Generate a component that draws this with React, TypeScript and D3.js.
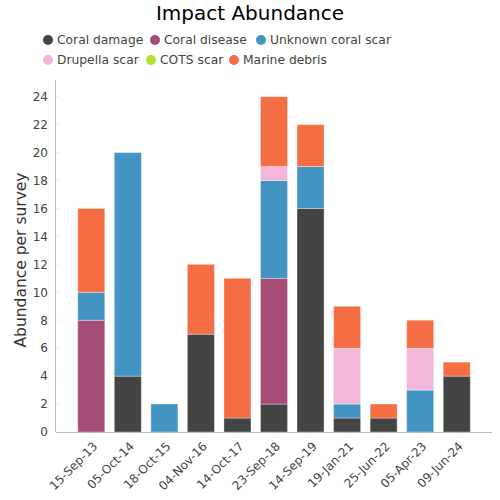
import React from "react";
import * as d3 from "d3";

const categories = ["15-Sep-13", "05-Oct-14", "18-Oct-15", "04-Nov-16", "14-Oct-17", "23-Sep-18", "14-Sep-19", "19-Jan-21", "25-Jun-22", "05-Apr-23", "09-Jun-24"];
const seriesNames = ["Coral damage", "Coral disease", "Unknown coral scar", "Drupella scar", "COTS scar", "Marine debris"];
const seriesColors = ["#444444", "#a54c77", "#4393c3", "#f1b6da", "#b8e02a", "#f46d43"];
const coralDamage = [0, 4, 0, 7, 1, 2, 16, 1, 1, 0, 4];
const coralDisease = [8, 0, 0, 0, 0, 9, 0, 0, 0, 0, 0];
const unknownScar = [2, 16, 2, 0, 0, 7, 3, 1, 0, 3, 0];
const drupellaScar = [0, 0, 0, 0, 0, 1, 0, 4, 0, 3, 0];
const cotsScar = [0, 0, 0, 0, 0, 0, 0, 0, 0, 0, 0];
const marineDebris = [6, 0, 0, 5, 10, 5, 3, 3, 1, 2, 1];
const yTicks = [0, 2, 4, 6, 8, 10, 12, 14, 16, 18, 20, 22, 24];

const seriesValues = [coralDamage, coralDisease, unknownScar, drupellaScar, cotsScar, marineDebris];

export default function App() {
  const W = 500, H = 500;
  const left = 56, right = 492, top = 80, bottom = 432;
  const font = "DejaVu Sans, sans-serif";

  const rows = categories.map((c, i) => {
    const r: any = { cat: c };
    seriesNames.forEach((s, k) => (r[s] = seriesValues[k][i]));
    return r;
  });
  const stack = d3.stack<any>().keys(seriesNames)(rows);

  const x = d3.scaleBand().domain(categories).range([left, right]).paddingInner(0.26).paddingOuter(0.595);
  const y = d3.scaleLinear().domain([0, 24]).range([bottom, 96.7]);

  const legendItems = [
    { i: 0, cx: 48, cy: 40 },
    { i: 1, cx: 155, cy: 40 },
    { i: 2, cx: 261, cy: 40 },
    { i: 3, cx: 48, cy: 60 },
    { i: 4, cx: 151, cy: 60 },
    { i: 5, cx: 234, cy: 60 },
  ];

  return (
    <svg width={W} height={H} style={{ position: "absolute", left: 0, top: 0, background: "#fff" }} fontFamily={font}>
      <text x={250} y={20} textAnchor="middle" fontSize={20} fill="#000">Impact Abundance</text>
      {legendItems.map((it) => (
        <g key={it.i}>
          <circle cx={it.cx} cy={it.cy} r={5} fill={seriesColors[it.i]} />
          <text x={it.cx + 9} y={it.cy + 4.3} fontSize={12.3} fill="#444">{seriesNames[it.i]}</text>
        </g>
      ))}
      {/* y axis */}
      <line x1={left - 0.5} x2={left - 0.5} y1={top} y2={bottom} stroke="#bbb" />
      {yTicks.map((t) => (
        <g key={t}>
          <line x1={left} x2={left + 4} y1={y(t)} y2={y(t)} stroke="#f2f2f2" />
          <text x={48} y={y(t) + 4.3} textAnchor="end" fontSize={12} fill="#444">{t}</text>
        </g>
      ))}
      <text transform={`translate(26,${(top + bottom) / 2 + 4}) rotate(-90)`} textAnchor="middle" fontSize={15.5} fill="#333">Abundance per survey</text>
      {/* bars */}
      {stack.map((layer, k) => (
        <g key={k} fill={seriesColors[k]}>
          {layer.map((d, i) =>
            d[1] - d[0] > 0 ? (
              <rect
                key={i}
                x={x(categories[i])!}
                y={y(d[1])}
                width={x.bandwidth()}
                height={y(d[0]) - y(d[1])}
                stroke="rgba(255,255,255,0.35)"
                strokeWidth={1}
              />
            ) : null
          )}
        </g>
      ))}
      {/* x axis */}
      <line x1={left} x2={right} y1={bottom + 0.5} y2={bottom + 0.5} stroke="#bbb" />
      {categories.map((c) => {
        const cx = x(c)! + x.bandwidth() / 2;
        return (
          <g key={c}>
            <line x1={cx} x2={cx} y1={bottom + 1} y2={bottom + 5} stroke="#f2f2f2" />
            <text transform={`translate(${cx + 7},${bottom + 15}) rotate(-45)`} textAnchor="end" fontSize={12} fill="#444">{c}</text>
          </g>
        );
      })}
    </svg>
  );
}
